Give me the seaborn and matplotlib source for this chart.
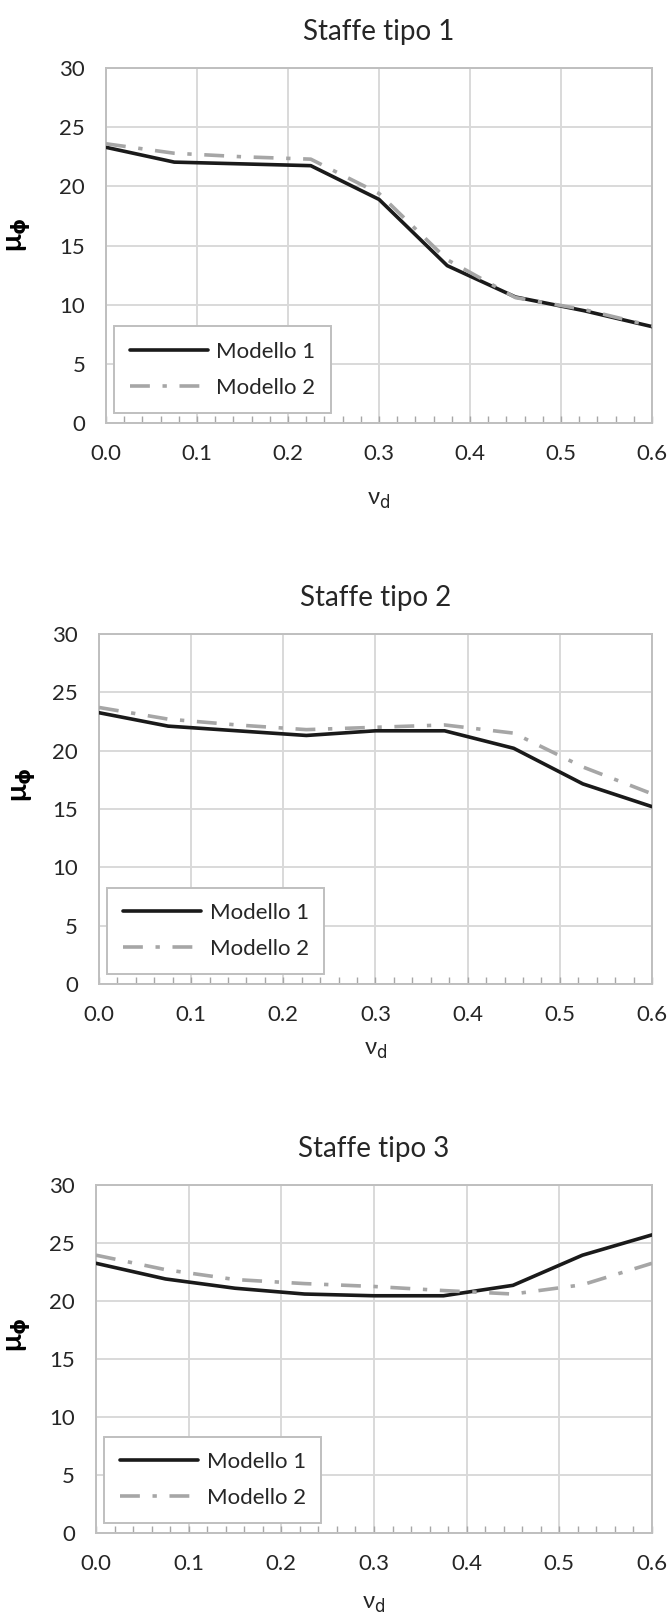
import matplotlib
matplotlib.use('Agg')
import matplotlib.pyplot as plt
from matplotlib.ticker import MultipleLocator
import pandas as pd
import seaborn as sns

# Data
nu_d = [0.0, 0.075, 0.15, 0.225, 0.3, 0.375, 0.45, 0.525, 0.6]

tipo1_mod1 = [23.3, 22.05, 21.9, 21.75, 18.9, 13.3, 10.65, 9.5, 8.15]
tipo1_mod2 = [23.6, 22.8, 22.5, 22.3, 19.4, 13.8, 10.6, 9.6, 8.2]

tipo2_mod1 = [23.25, 22.1, 21.7, 21.3, 21.7, 21.7, 20.2, 17.15, 15.2]
tipo2_mod2 = [23.7, 22.7, 22.2, 21.8, 22.0, 22.2, 21.5, 18.6, 16.3]

tipo3_mod1 = [23.25, 21.9, 21.1, 20.6, 20.45, 20.45, 21.35, 23.95, 25.7]
tipo3_mod2 = [23.95, 22.7, 21.85, 21.5, 21.25, 20.9, 20.6, 21.4, 23.25]

titles = ['Staffe tipo 1', 'Staffe tipo 2', 'Staffe tipo 3']
series = [(tipo1_mod1, tipo1_mod2), (tipo2_mod1, tipo2_mod2), (tipo3_mod1, tipo3_mod2)]
models = ['Modello 1', 'Modello 2']

sns.set_theme(style='white')
plt.rcParams['font.family'] = ['Lato', 'DejaVu Sans']
plt.rcParams['mathtext.fontset'] = 'dejavusans'

text_col = '#262626'
grid_col = '#d9d9d9'
spine_col = '#bfbfbf'

fig = plt.figure(figsize=(6.68, 16.16), dpi=100)

# axes rectangles (left, bottom, width, height) and label offsets per panel
rects = [[0.1587, 0.7382, 0.8174, 0.2197],
         [0.1482, 0.3911, 0.8278, 0.2166],
         [0.1437, 0.0514, 0.8323, 0.2153]]
xlab_y = [-0.217, -0.189, -0.207]
ylab_pos = [(-0.159, 0.53), (-0.136, 0.57), (-0.138, 0.57)]

for i in range(3):
    ax = fig.add_axes(rects[i])
    m1, m2 = series[i]
    df = pd.DataFrame({
        'nu': nu_d + nu_d,
        'mu': m1 + m2,
        'model': [models[0]] * len(nu_d) + [models[1]] * len(nu_d),
    })
    sns.lineplot(data=df, x='nu', y='mu', hue='model', style='model',
                 palette={'Modello 1': '#1a1a1a', 'Modello 2': '#a6a6a6'},
                 dashes={'Modello 1': '', 'Modello 2': (5.5, 3.5, 1.2, 3.5)},
                 linewidth=2.6, errorbar=None, sort=False, ax=ax, zorder=3)

    ax.set_xlim(0, 0.6)
    ax.set_ylim(0, 30)
    ax.xaxis.set_minor_locator(MultipleLocator(0.02))
    ax.yaxis.set_major_locator(MultipleLocator(5))
    ax.set_xticks([0.0, 0.1, 0.2, 0.3, 0.4, 0.5, 0.6])
    ax.set_xticklabels(['0.0', '0.1', '0.2', '0.3', '0.4', '0.5', '0.6'])
    ax.grid(True, which='major', color=grid_col, linewidth=1.4, zorder=0)
    for sp in ax.spines.values():
        sp.set_color(spine_col)
        sp.set_linewidth(1.4)
        sp.set_visible(True)
    ax.tick_params(axis='x', which='minor', direction='in', length=5,
                   width=1.0, color='#a6a6a6', bottom=True)
    ax.tick_params(axis='x', which='major', direction='in', length=5,
                   width=1.0, color='#a6a6a6', pad=15, labelsize=16,
                   labelcolor=text_col, bottom=True)
    ax.tick_params(axis='y', which='major', length=0, pad=15,
                   labelsize=16, labelcolor=text_col)

    ax.set_title(titles[i], fontsize=20, color=text_col, pad=20)
    ax.set_xlabel('ν$_\\mathrm{d}$', fontsize=17, color=text_col)
    ax.xaxis.label.set_va('center')
    ax.xaxis.set_label_coords(0.5, xlab_y[i])
    ax.set_ylabel('μ$_\\mathbf{\\phi}$', fontsize=21, fontweight='bold',
                  color='#000000')
    ax.yaxis.label.set_va('center')
    ax.yaxis.set_label_coords(*ylab_pos[i])

    handles, labels = ax.get_legend_handles_labels()
    leg = ax.legend(handles, labels, loc='lower left',
                    bbox_to_anchor=(0.015, 0.028), borderaxespad=0,
                    fontsize=16, frameon=True, fancybox=False,
                    handlelength=3.5, handletextpad=0.4,
                    borderpad=0.7, labelspacing=0.7, framealpha=1)
    leg.get_frame().set_edgecolor(spine_col)
    leg.get_frame().set_linewidth(1.4)
    for t in leg.get_texts():
        t.set_color(text_col)
    leg.set_zorder(5)

fig.savefig('out.png', dpi=100, facecolor='white')
